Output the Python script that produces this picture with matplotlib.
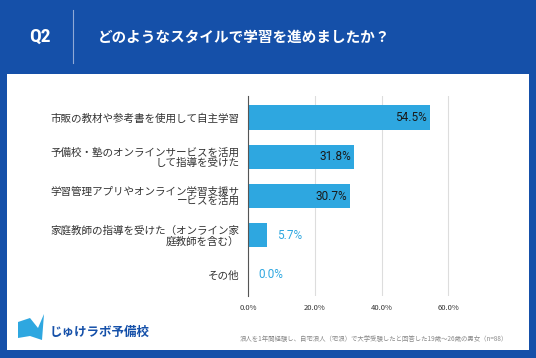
import matplotlib.pyplot as plt
from matplotlib.patches import Rectangle, Polygon

plt.rcParams['font.family'] = ['Noto Sans CJK JP', 'DejaVu Sans']

categories = [
    "市販の教材や参考書を使用して自主学習",
    "予備校・塾のオンラインサービスを活用\nして指導を受けた",
    "学習管理アプリやオンライン学習支援サ\nービスを活用",
    "家庭教師の指導を受けた（オンライン家\n庭教師を含む）",
    "その他",
]
values = [54.5, 31.8, 30.7, 5.7, 0.0]
xticks = [0, 20, 40, 60]

BLUE_BG = "#1550a9"
BAR = "#2ea7e0"

fig = plt.figure(figsize=(5.36, 3.58), dpi=100)
fig.patch.set_facecolor(BLUE_BG)
W, H = 536, 358

# white panel
fig.patches.append(Rectangle((7 / W, 8 / H), 522 / W, 276 / H, transform=fig.transFigure,
                             facecolor="white", edgecolor="none", zorder=-1))
# header
fig.text(40 / W, 1 - 37 / H, "Q2", color="white", fontsize=14, fontweight="bold",
         ha="center", va="center", family=["Roboto Condensed", "Roboto", "DejaVu Sans"])
fig.add_artist(plt.Line2D([73 / W, 73 / W], [1 - 10 / H, 1 - 63 / H], color="#8fa9d6", lw=0.8))
fig.text(98 / W, 1 - 37 / H, "どのようなスタイルで学習を進めましたか？", color="white",
         fontsize=10.5, fontweight="bold", ha="left", va="center")

ax = fig.add_axes([248 / W, 1 - 296 / H, 212 / W, 200 / H])
ax.set_zorder(2)
ax.patch.set_alpha(0)
ypos = list(range(len(categories)))
ax.barh(ypos, values, height=0.62, color=BAR, zorder=3)
ax.set_ylim(len(categories) - 0.45, -0.55)
ax.set_xlim(0, 63.5)
ax.set_yticks(ypos)
ax.set_yticklabels(categories, fontsize=7.6, color="#333333", linespacing=1.0)
ax.set_xticks(xticks)
ax.set_xticklabels([f"{t:.1f}%" for t in xticks], fontsize=5.5, color="#333333")
ax.tick_params(length=0, pad=6)
ax.tick_params(axis="x", pad=6)
ax.grid(axis="x", color="#dddddd", lw=0.8, zorder=0)
for s in ["top", "right", "bottom"]:
    ax.spines[s].set_visible(False)
ax.spines["left"].set_color("#555555")
ax.spines["left"].set_linewidth(0.8)
ax.spines["left"].set_zorder(4)

for y, v in zip(ypos, values):
    if v > 15:
        ax.text(v - 1.0, y, f"{v:.1f}%", ha="right", va="center", fontsize=8.5,
                color="#1a1a1a", family=["Roboto", "DejaVu Sans"], zorder=5)
    else:
        ax.text(v + 3.0, y, f"{v:.1f}%", ha="left", va="center", fontsize=8.5,
                color=BAR, family=["Roboto", "DejaVu Sans"], zorder=5)

# logo
fig.patches.append(Polygon([(18 / W, 1 - 322 / H), (30 / W, 1 - 318 / H), (38 / W, 1 - 328 / H),
                            (44 / W, 1 - 314 / H), (42 / W, 1 - 340 / H), (30 / W, 1 - 336 / H),
                            (18 / W, 1 - 338 / H)], closed=True, transform=fig.transFigure,
                           facecolor="#2ea7e0", edgecolor="none", zorder=2))
fig.text(50 / W, 1 - 332 / H, "じゅけラボ予備校", color=BLUE_BG, fontsize=9,
         fontweight="bold", ha="left", va="center")
fig.text(508 / W, 1 - 339 / H, "浪人を1年間経験し、自宅浪人（宅浪）で大学受験したと回答した19歳～26歳の男女（n=88）",
         color="#888888", fontsize=4.6, ha="right", va="center")

fig.savefig("out.png", dpi=100, facecolor=fig.get_facecolor())
